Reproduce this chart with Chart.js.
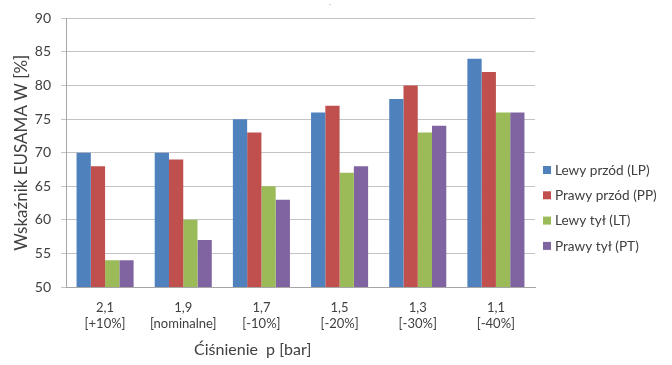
<!DOCTYPE html>
<html>
<head>
<meta charset="utf-8">
<script src="https://cdn.jsdelivr.net/npm/chart.js@4"></script>
<style>
  html, body { margin: 0; padding: 0; background: #ffffff; }
  #wrap { width: 672px; height: 365px; position: relative; }
</style>
</head>
<body>
<div id="wrap"><canvas id="c" width="672" height="365"></canvas></div>
<script>
// Pressure levels (two-line category labels)
const categories = [
  ['2,1', '[+10%]'],
  ['1,9', '[nominalne]'],
  ['1,7', '[-10%]'],
  ['1,5', '[-20%]'],
  ['1,3', '[-30%]'],
  ['1,1', '[-40%]']
];

const seriesNames = ['Lewy przód (LP)', 'Prawy przód (PP)', 'Lewy tył (LT)', 'Prawy tył (PT)'];

// EUSAMA index per wheel [%]
const lewyPrzod  = [70, 70, 75, 76, 78, 84];
const prawyPrzod = [68, 69, 73, 77, 80, 82];
const lewyTyl    = [54, 60, 65, 67, 73, 76];
const prawyTyl   = [54, 57, 63, 68, 74, 76];

const yMin = 50, yMax = 90, yStep = 5;

const seriesColors = ['#4F81BD', '#C0504D', '#9BBB59', '#8064A2'];
const textColor = '#404040';
const fontFamily = 'Lato, "Open Sans", sans-serif';

// Axis title for x is placed a little left of the plot centre, legend sits to the right
const decorations = {
  id: 'decorations',
  afterDraw(chart) {
    const { ctx, chartArea } = chart;
    ctx.save();
    // x-axis title
    ctx.fillStyle = textColor;
    ctx.font = '16px ' + fontFamily;
    ctx.textAlign = 'center';
    ctx.textBaseline = 'middle';
    ctx.fillText('Ćiśnienie  p [bar]', chartArea.left + (chartArea.right - chartArea.left) * 0.398, 350);

    // legend
    ctx.font = '13.6px ' + fontFamily;
    ctx.textAlign = 'left';
    chart.data.datasets.forEach((ds, i) => {
      const y = 170 + i * 25.3;
      const x = chartArea.right + 8;
      ctx.fillStyle = ds.backgroundColor;
      ctx.fillRect(x, y - 4, 8, 8);
      ctx.fillStyle = textColor;
      ctx.fillText(ds.label, x + 12, y + 0.5);
    });

    // small leftover mark above the plot
    ctx.fillStyle = '#9a9a9a';
    ctx.font = '8px ' + fontFamily;
    ctx.textAlign = 'center';
    ctx.fillText('-', 330, 4);
    ctx.restore();
  }
};

const values = [lewyPrzod, prawyPrzod, lewyTyl, prawyTyl];

new Chart(document.getElementById('c'), {
  type: 'bar',
  data: {
    labels: categories,
    datasets: seriesNames.map((name, i) => ({
      label: name,
      data: values[i],
      backgroundColor: seriesColors[i],
      borderWidth: 0,
      barPercentage: 1.0,
      categoryPercentage: 0.73
    }))
  },
  options: {
    responsive: false,
    devicePixelRatio: 1,
    animation: false,
    layout: { padding: { top: 18, right: 137, bottom: 0, left: 0 } },
    plugins: {
      legend: { display: false },
      tooltip: { enabled: false },
      title: { display: false }
    },
    scales: {
      x: {
        grid: { display: false, drawTicks: false },
        border: { display: true, color: '#a6a6a6', width: 1 },
        ticks: {
          color: textColor,
          font: { family: fontFamily, size: 13 },
          padding: 13,
          maxRotation: 0,
          autoSkip: false
        },
        afterFit(scale) { scale.height = 78; }
      },
      y: {
        min: yMin,
        max: yMax,
        grid: { color: '#c4c4c4', lineWidth: 1, tickLength: 5, drawTicks: true },
        border: { display: true, color: '#a6a6a6', width: 1 },
        ticks: {
          stepSize: yStep,
          color: textColor,
          font: { family: fontFamily, size: 14 },
          padding: 10
        },
        title: {
          display: true,
          text: 'Wskaźnik EUSAMA W [%]',
          color: textColor,
          font: { family: fontFamily, size: 17 },
          padding: { top: 11, bottom: 0 }
        },
        afterFit(scale) { scale.width = 66; }
      }
    }
  },
  plugins: [decorations]
});
</script>
</body>
</html>
